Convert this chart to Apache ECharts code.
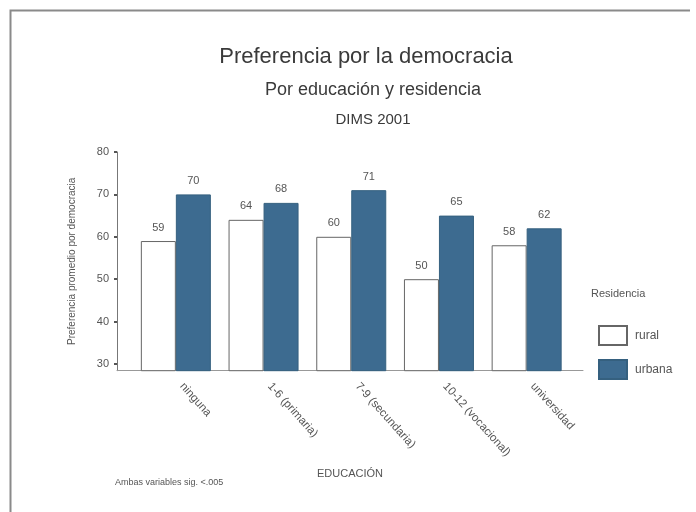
<!DOCTYPE html>
<html>
<head>
<meta charset="utf-8">
<script src="https://cdn.jsdelivr.net/npm/echarts@6/dist/echarts.min.js"></script>
<style>
html,body{margin:0;padding:0;background:#fff;}
#c{width:696px;height:512px;}
</style>
</head>
<body>
<div id="c"></div>
<script>
const categories = ['ninguna', '1-6 (primaria)', '7-9 (secundaria)', '10-12 (vocacional)', 'universidad'];
const rural = [59, 64, 60, 50, 58];
const urbana = [70, 68, 71, 65, 62];
const yTicks = [30, 40, 50, 60, 70, 80];

const FONT = 'Arial, "Liberation Sans", sans-serif';
const TXT = '#555';
const BLUE = '#3d6b90';

const chart = echarts.init(document.getElementById('c'), null, {renderer: 'canvas'});
chart.setOption({
  backgroundColor: '#fff',
  animation: false,
  textStyle: {fontFamily: FONT, color: TXT},
  graphic: [
    {type: 'polyline', shape: {points: [[10.5, 512], [10.5, 10.5], [690, 10.5]]}, style: {stroke: '#8a8a8a', lineWidth: 2, fill: null}},
    {type: 'text', x: 366, y: 57, style: {text: 'Preferencia por la democracia', font: '22px ' + FONT, fill: '#3a3a3a', textAlign: 'center', textVerticalAlign: 'middle'}},
    {type: 'text', x: 373, y: 90, style: {text: 'Por educación y residencia', font: '18px ' + FONT, fill: '#3a3a3a', textAlign: 'center', textVerticalAlign: 'middle'}},
    {type: 'text', x: 373, y: 120, style: {text: 'DIMS 2001', font: '15px ' + FONT, fill: '#3a3a3a', textAlign: 'center', textVerticalAlign: 'middle'}},
    {type: 'text', x: 591, y: 294, style: {text: 'Residencia', font: '11px ' + FONT, fill: TXT, textAlign: 'left', textVerticalAlign: 'middle'}},
    {type: 'text', x: 115, y: 483, style: {text: 'Ambas variables sig. <.005', font: '9px ' + FONT, fill: TXT, textAlign: 'left', textVerticalAlign: 'middle'}},
    {type: 'text', x: 350, y: 474, style: {text: 'EDUCACIÓN', font: '11px ' + FONT, fill: TXT, textAlign: 'center', textVerticalAlign: 'middle'}}
  ],
  legend: {
    orient: 'vertical',
    left: 593, top: 320,
    itemWidth: 28, itemHeight: 19, itemGap: 13,
    icon: 'rect',
    textStyle: {fontSize: 12, color: TXT, fontFamily: FONT, padding: [0, 0, 0, 3]},
    data: ['rural', 'urbana']
  },
  grid: [
    {left: 132, right: 125.5, top: 152, bottom: 141.3},
    {left: 117, right: 113, top: 152, bottom: 141.3}
  ],
  xAxis: [
    {
      type: 'category', gridIndex: 0, data: categories,
      axisLine: {show: false}, axisTick: {show: false},
      axisLabel: {rotate: -48, fontSize: 11.5, color: TXT, margin: 7, padding: [0, 0, 0, 9], fontFamily: FONT}
    },
    {
      type: 'value', gridIndex: 1, min: 0, max: 1,
      axisLine: {show: true, lineStyle: {color: '#999', width: 1}},
      axisTick: {show: false}, axisLabel: {show: false}, splitLine: {show: false}
    }
  ],
  yAxis: [
    {
      type: 'value', gridIndex: 0, min: 28.42, max: 80, offset: 15,
      name: 'Preferencia promedio por democracia',
      nameLocation: 'middle', nameGap: 40,
      nameTextStyle: {fontSize: 10, color: TXT, fontFamily: FONT},
      axisLine: {show: true, lineStyle: {color: '#777'}},
      axisTick: {show: true, length: 3, customValues: yTicks, lineStyle: {color: '#555', width: 2}},
      axisLabel: {customValues: yTicks, fontSize: 11, color: TXT, margin: 8},
      splitLine: {show: false}
    },
    {type: 'value', gridIndex: 1, show: false}
  ],
  series: [
    {
      name: 'rural', type: 'bar', data: rural, barWidth: 35, barGap: '0%',
      itemStyle: {color: '#fff', borderColor: '#666', borderWidth: 1},
      label: {show: true, position: 'top', distance: 8, fontSize: 11, color: TXT}
    },
    {
      name: 'urbana', type: 'bar', data: urbana, barWidth: 35, barGap: '0%',
      itemStyle: {color: BLUE, borderColor: '#35607f', borderWidth: 1},
      label: {show: true, position: 'top', distance: 8, fontSize: 11, color: TXT}
    }
  ]
});
</script>
</body>
</html>
